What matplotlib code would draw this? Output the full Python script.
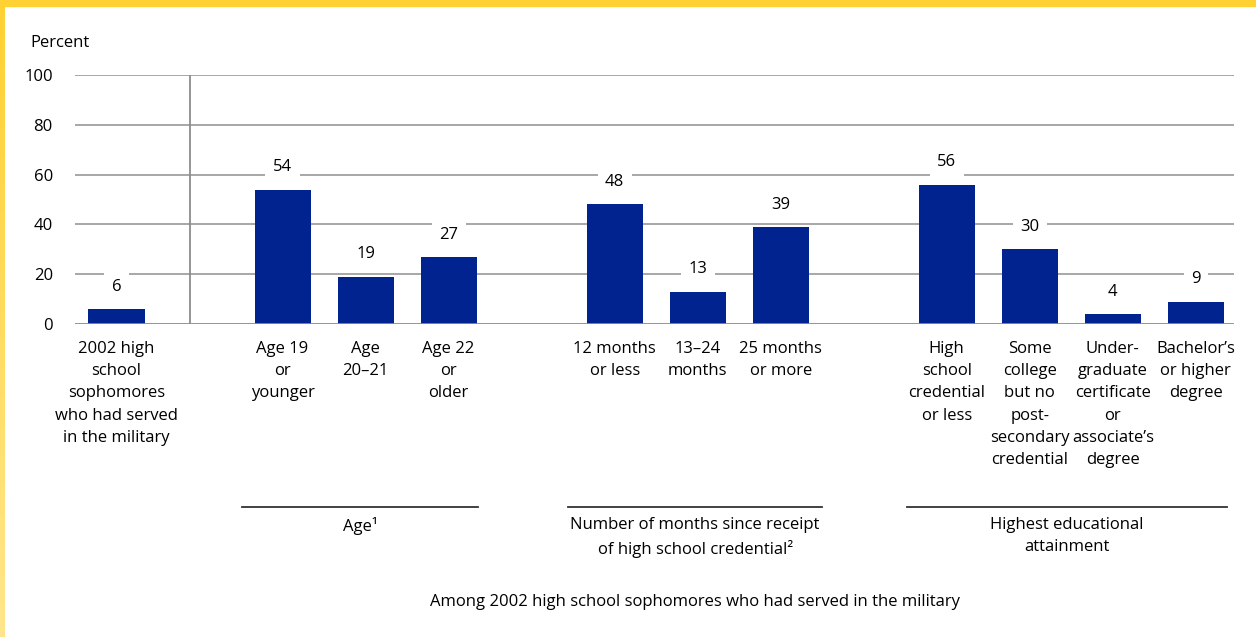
from matplotlib import pyplot as plt
from matplotlib.patches import Rectangle
from matplotlib.colors import LinearSegmentedColormap
import matplotlib.transforms as mtransforms
import numpy as np

plt.rcParams['font.family'] = ['Open Sans', 'DejaVu Sans']

## Du lieu
labels = ["2002 high\nschool\nsophomores\nwho had served\nin the military",
          "Age 19\nor\nyounger", "Age\n20\u201321", "Age 22\nor\nolder",
          "12 months\nor less", "13\u201324\nmonths", "25 months\nor more",
          "High\nschool\ncredential\nor less",
          "Some\ncollege\nbut no\npost-\nsecondary\ncredential",
          "Under-\ngraduate\ncertificate\nor\nassociate\u2019s\ndegree",
          "Bachelor\u2019s\nor higher\ndegree"]
values = [6, 54, 19, 27, 48, 13, 39, 56, 30, 4, 9]
pos = [0.5, 2.5, 3.5, 4.5, 6.5, 7.5, 8.5, 10.5, 11.5, 12.5, 13.5]

groups = ["Age\u00b9", "Number of months since receipt\nof high school credential\u00b2",
          "Highest educational\nattainment"]
group_span = [(2.01, 4.86), (5.94, 9.0), (10.02, 13.88)]
footer = "Among 2002 high school sophomores who had served in the military"

blue = "#00238F"
fs = 12
ls = 1.52

fig = plt.figure(figsize=(12.56, 6.37), dpi=100)
ax = fig.add_axes([75/1256, 1-324/637, (1234-75)/1256, (324-75)/637])

# vien vang
fig.patches.append(Rectangle((0, 1-6/637), 1, 6/637, transform=fig.transFigure,
                             color="#FFD133", zorder=0))
ax_g = fig.add_axes([0, 0, 5/1256, 1-6/637])
grad = np.linspace(0, 1, 256).reshape(-1, 1)
cm = LinearSegmentedColormap.from_list("yl", ["#FFD133", "#FFE68C"])
ax_g.imshow(grad, aspect="auto", cmap=cm)
ax_g.axis("off")

ax.bar(pos, values, width=0.675, color=blue, zorder=3)
for x, v in zip(pos, values):
    ax.annotate(str(v), (x, v), xytext=(0, 16), textcoords="offset points",
                ha="center", va="center", fontsize=fs, zorder=4,
                bbox=dict(boxstyle="square,pad=0.45", fc="white", ec="none"))

ax.set_xlim(0, 13.96)
ax.set_ylim(0, 100)
ax.set_yticks(np.arange(0, 101, 20))
ax.tick_params(axis="y", length=0, pad=16, labelsize=fs)
ax.set_xticks([])
for s in ax.spines.values():
    s.set_visible(False)
for yv in range(20, 101, 20):
    ax.axhline(yv, color="#A0A0A0", lw=1.3, zorder=1)
ax.axhline(0, color="#8C8C8C", lw=2, zorder=5)
ax.axvline(1.386, ymin=0, ymax=1, color="#8C8C8C", lw=1.3, zorder=1)

ax.text(-0.54, 113, "Percent", fontsize=fs, ha="left", va="center")

for x, lab in zip(pos, labels):
    ax.text(x, -6.8, lab, ha="center", va="top", fontsize=fs, linespacing=ls)

tr = mtransforms.blended_transform_factory(ax.transData, fig.transFigure)
for (a, b), g in zip(group_span, groups):
    ax.plot([a, b], [1-507/637]*2, transform=tr, color="#333333", lw=1.3, clip_on=False)
    ax.text((a+b)/2, 1-517/637, g, transform=tr, ha="center", va="top",
            fontsize=fs, linespacing=ls)

ax.text(7.47, 1-602/637, footer, transform=tr, ha="center", va="center", fontsize=fs)

fig.savefig("out.png", dpi=100)
